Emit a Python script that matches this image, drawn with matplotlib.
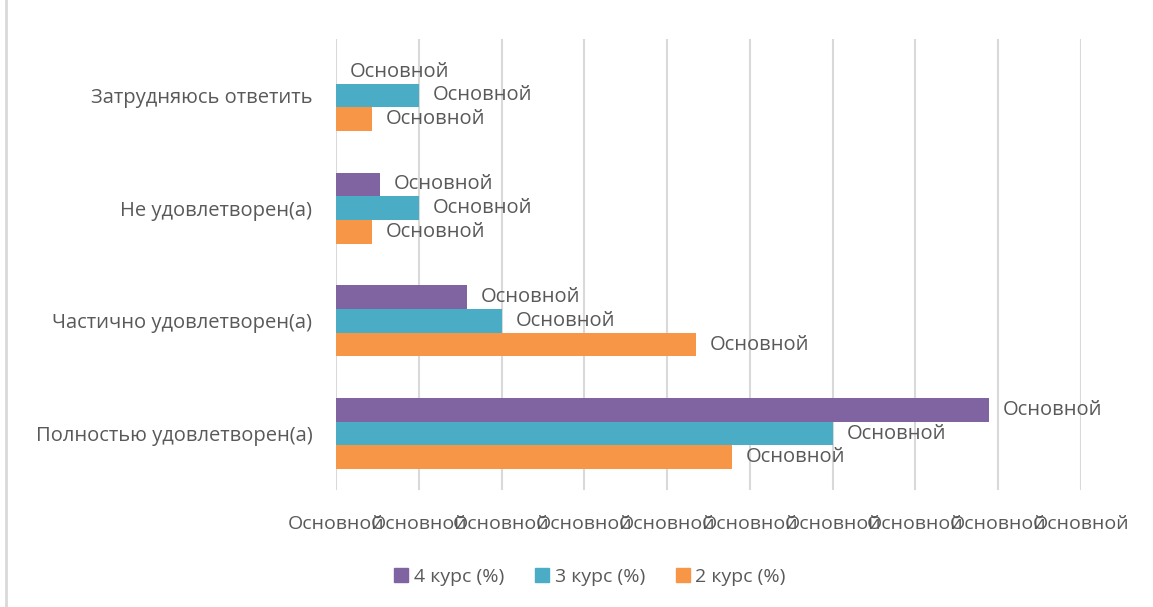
import numpy as np
import matplotlib.pyplot as plt
from matplotlib.lines import Line2D
from matplotlib.patches import Patch

plt.rcParams['font.family'] = ['Open Sans', 'DejaVu Sans']

categories = ['Полностью удовлетворен(а)', 'Частично удовлетворен(а)',
              'Не удовлетворен(а)', 'Затрудняюсь ответить']
kurs4 = [78.9, 15.8, 5.3, 0]
kurs3 = [60, 20, 10, 10]
kurs2 = [47.8, 43.5, 4.3, 4.3]
series_names = ['4 курс (%)', '3 курс (%)', '2 курс (%)']
tick_values = np.arange(0, 91, 10)
tick_label = 'Основной'

colors = ['#8064A2', '#4BACC6', '#F79646']
text_color = '#595959'

fig = plt.figure(figsize=(11.53, 6.07), dpi=100)
ax = fig.add_axes([336 / 1153, 117 / 607, 745 / 1153, 451 / 607])

y = np.arange(len(categories))
h = 0.21
for vals, off, c in zip([kurs4, kurs3, kurs2], [h, 0, -h], colors):
    bars = ax.barh(y + off, vals, height=h, color=c, zorder=3)
    ax.bar_label(bars, labels=[tick_label] * len(vals), padding=10,
                 fontsize=14.5, color=text_color)

ax.set_xlim(0, 90)
ax.set_ylim(-0.5, 3.5)
ax.set_xticks(tick_values)
ax.set_xticklabels([tick_label] * len(tick_values), fontsize=14, color=text_color)
ax.set_yticks(y)
ax.set_yticklabels(categories, fontsize=14.5, color=text_color)
ax.tick_params(axis='both', length=0)
ax.tick_params(axis='x', pad=18)
ax.tick_params(axis='y', pad=17)
ax.grid(axis='x', color='#d9d9d9', linewidth=1.5, zorder=0)
for s in ax.spines.values():
    s.set_visible(False)

fig.add_artist(Line2D([6 / 1153, 6 / 1153], [0, 1], color='#d9d9d9', linewidth=2))

handles = [Patch(color=c) for c in colors]
fig.legend(handles, series_names, loc='center', bbox_to_anchor=(590 / 1153, 1 - 577 / 607),
           ncol=3, frameon=False, fontsize=14, labelcolor=text_color,
           handlelength=0.7, handleheight=0.7, handletextpad=0.3, columnspacing=1.6)

fig.savefig('out.png', dpi=100)
